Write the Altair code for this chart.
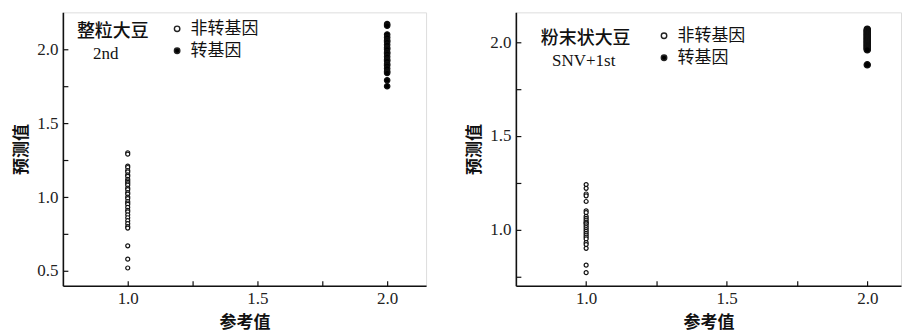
import altair as alt
import pandas as pd

# ---------------- data ----------------
left_non = [1.30, 1.29, 1.21, 1.20, 1.18, 1.17, 1.15, 1.14, 1.12, 1.11, 1.10, 1.09,
            1.08, 1.06, 1.05, 1.03, 1.02, 1.00, 0.99, 0.97, 0.96, 0.95, 0.93, 0.91,
            0.90, 0.88, 0.86, 0.84, 0.82, 0.80, 0.79, 0.67, 0.58, 0.52]
left_gm = [2.17, 2.16, 2.10, 2.08, 2.06, 2.05, 2.03, 2.01, 2.00, 1.98, 1.97, 1.95,
           1.93, 1.92, 1.90, 1.89, 1.87, 1.85, 1.84, 1.79, 1.75]
right_non = [1.24, 1.22, 1.19, 1.18, 1.15, 1.10, 1.09, 1.07, 1.06, 1.05, 1.04, 1.035,
             1.03, 1.02, 1.01, 1.00, 0.99, 0.98, 0.97, 0.96, 0.95, 0.93, 0.92, 0.90,
             0.81, 0.77]
right_gm = [2.07, 2.065, 2.06, 2.055, 2.05, 2.045, 2.04, 2.035, 2.03, 2.025, 2.02,
            2.015, 2.01, 2.005, 2.00, 1.995, 1.99, 1.985, 1.98, 1.975, 1.97, 1.965,
            1.96, 1.88]
ref_non = 1.0
ref_gm = 2.0
categories = ["非转基因", "转基因"]
x_ticks = [1.0, 1.25, 1.5, 1.75, 2.0]
left_y_ticks = [0.5, 0.75, 1.0, 1.25, 1.5, 1.75, 2.0]
right_y_ticks = [0.75, 1.0, 1.25, 1.5, 1.75, 2.0]


def make_df(non, gm):
    rows = [{"ref": ref_non, "pred": v, "type": categories[0]} for v in non]
    rows += [{"ref": ref_gm, "pred": v, "type": categories[1]} for v in gm]
    return pd.DataFrame(rows)


LABEL_EXPR = "abs(datum.value*2 - round(datum.value*2)) < 0.001 ? format(datum.value, '.1f') : ''"
CJK = "Noto Sans CJK SC"
SERIF = "Liberation Serif"


def axis(values, title, tpad):
    return alt.Axis(values=values, labelExpr=LABEL_EXPR, title=title, grid=False,
                    tickSize={"expr": "-5"}, labelPadding=10, tickWidth=1.2,
                    tickColor="#111", domainColor="#111", domainWidth=1.6,
                    labelFont=SERIF, labelFontSize=17, labelColor="#222",
                    titleFont=CJK, titleFontSize=17, titleFontWeight="bold",
                    titleColor="#111", titlePadding=tpad)


def panel(df, xdom, ydom, yticks, w, h, name, sub, txt_pos, sub_pos, leg_pos, gm_size):
    pts = alt.Chart(df).mark_point(shape="circle", stroke="#111", strokeWidth=1.2,
                                   opacity=1).encode(
        x=alt.X("ref:Q", scale=alt.Scale(domain=xdom, nice=False, zero=False),
                axis=axis(x_ticks, "参考值", 8)),
        y=alt.Y("pred:Q", scale=alt.Scale(domain=ydom, nice=False, zero=False),
                axis=axis(yticks, "预测值", 6)),
        fill=alt.Fill("type:N", scale=alt.Scale(domain=categories, range=["white", "black"]),
                      legend=alt.Legend(title=None, orient="none", legendX=leg_pos[0],
                                        legendY=leg_pos[1], padding=0, symbolType="circle",
                                        symbolSize=30, symbolStrokeColor="#222",
                                        symbolStrokeWidth=1.4, labelFont=CJK,
                                        labelFontSize=17, labelColor="#111",
                                        labelOffset=5, rowPadding=4)),
        size=alt.condition(alt.datum.type == categories[1], alt.value(gm_size), alt.value(16)),
    )
    t1 = alt.Chart(pd.DataFrame({"t": [name]})).mark_text(
        font=CJK, fontSize=18, color="#111", fontWeight=500).encode(
        x=alt.value(txt_pos[0]), y=alt.value(txt_pos[1]), text="t:N")
    t2 = alt.Chart(pd.DataFrame({"t": [sub]})).mark_text(
        font=SERIF, fontSize=17, color="#111").encode(
        x=alt.value(sub_pos[0]), y=alt.value(sub_pos[1]), text="t:N")
    return alt.layer(pts, t1, t2).properties(width=w, height=h)


left = panel(make_df(left_non, left_gm), [0.75, 2.15], [0.4, 2.25], left_y_ticks,
             364, 274, "整粒大豆", "2nd", (50, 20), (43, 42), (106, 8), 30)
right = panel(make_df(right_non, right_gm), [0.75, 2.12], [0.7, 2.16], right_y_ticks,
              386, 274, "粉末状大豆", "SNV+1st", (70, 27), (68, 49), (140, 15), 40)

chart = alt.hconcat(left, right, spacing=38).resolve_legend(fill="independent").properties(
    padding={"left": 4, "top": 3, "right": 0, "bottom": 0}
).configure_view(stroke=None).configure(background="white")

chart.save("out.html", embed_options={"renderer": "svg", "actions": False})
